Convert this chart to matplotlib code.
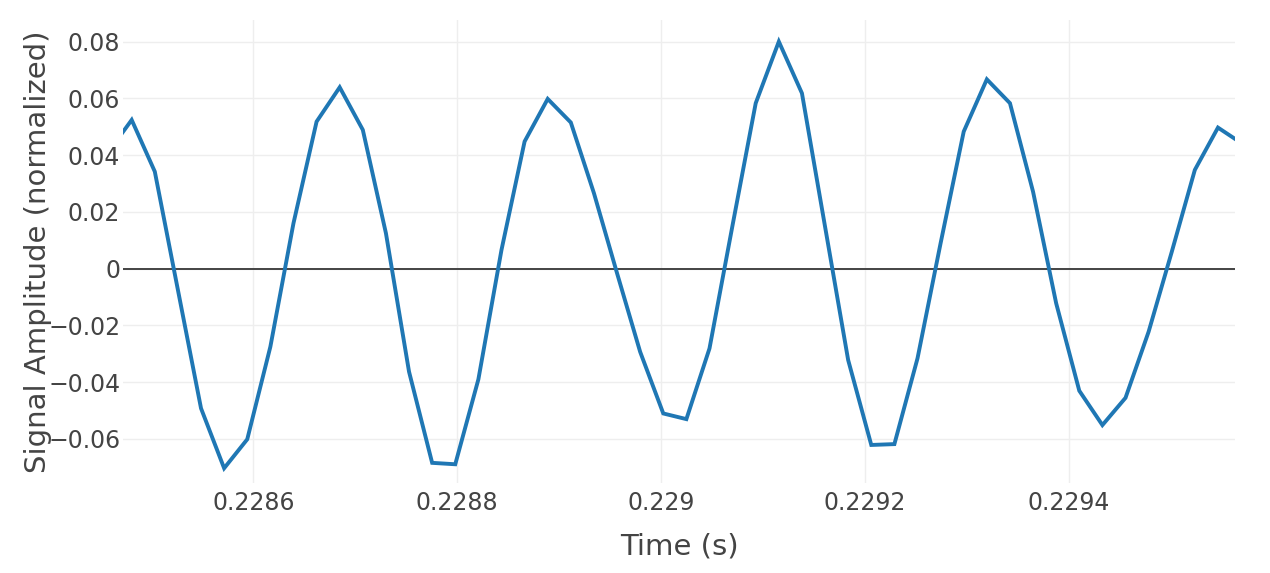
import numpy as np
import matplotlib.pyplot as plt
from matplotlib.ticker import FuncFormatter, MultipleLocator

# audio samples around t = 0.2286 s
sample_rate = 44100
first_sample = 10075
amplitude = [0.0412, 0.0524, 0.0342, -0.0075, -0.0492, -0.0703, -0.0601, -0.0275,
             0.0160, 0.0518, 0.0639, 0.0489, 0.0125, -0.0363, -0.0684, -0.0689,
             -0.0390, 0.0066, 0.0448, 0.0598, 0.0515, 0.0266, -0.0016, -0.0293,
             -0.0510, -0.0530, -0.0281, 0.0154, 0.0583, 0.0800, 0.0618, 0.0148,
             -0.0322, -0.0621, -0.0618, -0.0316, 0.0090, 0.0483, 0.0667, 0.0583,
             0.0271, -0.0122, -0.0430, -0.0551, -0.0455, -0.0222, 0.0059, 0.0348,
             0.0497, 0.0443]
time = (first_sample + np.arange(len(amplitude))) / sample_rate

x_range = [0.2284722, 0.2295632]
y_range = [-0.0755, 0.0876]

plt.rcParams['font.family'] = ['DejaVu Sans']

fig = plt.figure(figsize=(12.7, 5.73), dpi=100)
ax = fig.add_axes([123/1270, 1 - 483/573, (1235-123)/1270, (483-20)/573])

ax.plot(time, amplitude, color='#1f77b4', linewidth=2.8, solid_joinstyle='miter', zorder=3)
ax.axhline(0, color='#444444', linewidth=1.4, zorder=2)

ax.set_xlim(x_range)
ax.set_ylim(y_range)
ax.xaxis.set_major_locator(MultipleLocator(0.0002))
ax.yaxis.set_major_locator(MultipleLocator(0.02))

def fmt_x(v, pos):
    return f"{v:.4f}".rstrip('0').rstrip('.')

def fmt_y(v, pos):
    if abs(v) < 1e-9:
        return "0"
    return f"{v:.2f}".replace('-', '\u2212')

ax.xaxis.set_major_formatter(FuncFormatter(fmt_x))
ax.yaxis.set_major_formatter(FuncFormatter(fmt_y))

ax.grid(True, color='#eeeeee', linewidth=1.0, zorder=0)
ax.set_axisbelow(True)
for s in ax.spines.values():
    s.set_visible(False)
ax.tick_params(length=0, labelsize=17, labelcolor='#444444', pad=6)
ax.tick_params(axis='y', pad=2)

ax.set_xlabel('Time (s)', fontsize=21, color='#444444', labelpad=12)
ax.set_ylabel('Signal Amplitude (normalized)', fontsize=21, color='#444444', labelpad=-3)

fig.savefig('out.png', dpi=100)
